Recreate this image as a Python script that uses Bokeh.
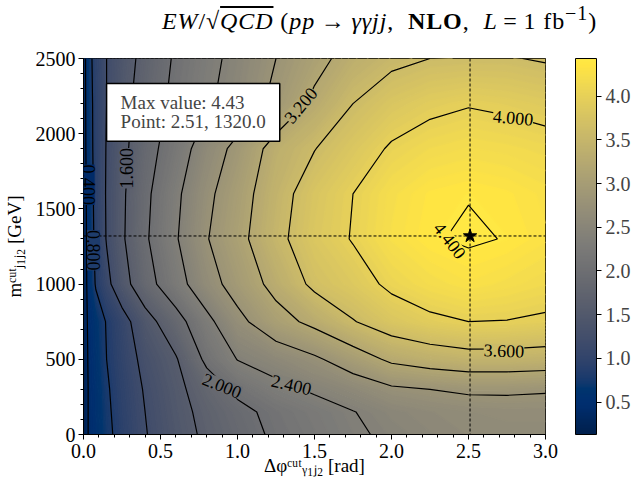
import numpy as np
from bokeh.plotting import figure
from bokeh.models import (ColorBar, LinearColorMapper, Label, Span, FixedTicker,
                          PrintfTickFormatter, Div)
from bokeh.palettes import Cividis256
from bokeh.layouts import column
from bokeh.embed import file_html
from bokeh.resources import INLINE

# ---------------- data ----------------
dphi_cut = [0.0, 0.03, 0.08, 0.15, 0.25, 0.4, 0.6, 0.8, 1.0, 1.25, 1.5, 1.75, 2.0, 2.25, 2.5, 2.75, 3.0]
mjj_cut = [0, 150, 300, 500, 750, 1000, 1300, 1600, 1900, 2200, 2500]

# significance EW/sqrt(QCD); one row per mjj_cut value, one column per dphi_cut value
sig_m0    = [0.13, 0.40, 0.55, 0.72, 0.92, 1.18, 1.44, 1.67, 1.85, 2.06, 2.20, 2.35, 2.46, 2.54, 2.60, 2.62, 2.62]
sig_m150  = [0.13, 0.40, 0.56, 0.74, 0.94, 1.20, 1.47, 1.71, 1.90, 2.10, 2.24, 2.39, 2.52, 2.59, 2.64, 2.66, 2.66]
sig_m300  = [0.14, 0.40, 0.57, 0.76, 0.96, 1.23, 1.50, 1.80, 2.08, 2.30, 2.45, 2.58, 2.74, 2.80, 2.85, 2.85, 2.83]
sig_m500  = [0.14, 0.42, 0.60, 0.80, 1.00, 1.30, 1.57, 2.08, 2.41, 2.57, 2.74, 3.00, 3.27, 3.38, 3.45, 3.45, 3.42]
sig_m750  = [0.15, 0.45, 0.62, 0.82, 1.05, 1.45, 1.85, 2.30, 2.70, 3.05, 3.30, 3.58, 3.80, 3.93, 4.00, 3.99, 3.95]
sig_m1000 = [0.16, 0.50, 0.83, 1.10, 1.45, 1.85, 2.25, 2.65, 2.95, 3.32, 3.68, 3.85, 4.07, 4.20, 4.28, 4.22, 4.15]
sig_m1300 = [0.17, 0.52, 0.90, 1.22, 1.55, 1.95, 2.37, 2.78, 3.08, 3.50, 3.82, 4.02, 4.25, 4.38, 4.43, 4.39, 4.30]
sig_m1600 = [0.18, 0.55, 0.92, 1.23, 1.54, 1.92, 2.33, 2.72, 3.02, 3.45, 3.78, 4.00, 4.22, 4.35, 4.39, 4.35, 4.27]
sig_m1900 = [0.19, 0.60, 0.93, 1.22, 1.50, 1.85, 2.20, 2.60, 2.90, 3.35, 3.59, 3.82, 4.04, 4.15, 4.20, 4.17, 4.12]
sig_m2200 = [0.20, 0.62, 0.93, 1.20, 1.47, 1.78, 2.10, 2.35, 2.55, 2.90, 3.28, 3.60, 3.80, 3.92, 3.98, 3.94, 3.88]
sig_m2500 = [0.20, 0.65, 0.95, 1.20, 1.42, 1.72, 2.05, 2.30, 2.50, 2.80, 3.08, 3.35, 3.52, 3.60, 3.62, 3.62, 3.57]

max_value = 4.43
max_point = [2.51, 1320.0]

contour_levels = [0.4, 0.8, 1.2, 1.6, 2.0, 2.4, 2.8, 3.2, 3.6, 4.0, 4.4]
labelled_levels = [0.4, 0.8, 1.6, 2.0, 2.4, 3.2, 3.6, 4.0, 4.4]
colorbar_ticks = [0.5, 1.0, 1.5, 2.0, 2.5, 3.0, 3.5, 4.0]
x_ticks = [0.0, 0.5, 1.0, 1.5, 2.0, 2.5, 3.0]
y_ticks = [0, 500, 1000, 1500, 2000, 2500]
color_low, color_high = 0.13, 4.43

x_label = "Δφᶜᵘᵗᵧ₁ⱼ₂ [rad]"
y_label = "mᶜᵘᵗⱼ₁ⱼ₂ [GeV]"

# ---------------- styling / placement ----------------
FONT = "Liberation Serif"
# contour label placement (x, y in data units, angle in degrees)
label_pos = [(0.03, 1660, -90), (0.065, 1225, -90), (0.28, 1770, 90), (0.90, 326, -22),
             (1.35, 332, -13), (1.41, 2190, 50), (2.73, 559, -2), (2.79, 2108, -5),
             (2.38, 1290, -52)]

z = np.array([sig_m0, sig_m150, sig_m300, sig_m500, sig_m750, sig_m1000,
              sig_m1300, sig_m1600, sig_m1900, sig_m2200, sig_m2500])
x = np.array(dphi_cut)
y = np.array(mjj_cut, dtype=float)


def cmap(v):
    i = int(round((v - color_low) / (color_high - color_low) * 255))
    return Cividis256[max(0, min(255, i))]


p = figure(frame_width=462, frame_height=376, x_range=(0, 3), y_range=(0, 2500),
           output_backend="svg", toolbar_location=None,
           min_border_left=77, min_border_top=10, min_border_bottom=43, min_border_right=70)
p.grid.visible = False
p.outline_line_color = "black"
p.outline_line_width = 1

# filled field (band edges drawn in the band colour to hide seams)
fill_levels = list(np.linspace(color_low - 0.005, color_high + 0.005, 90))
mids = [(a + b) / 2 for a, b in zip(fill_levels[:-1], fill_levels[1:])]
fill_cols = [cmap(m) for m in mids]
edge_cols = [cmap(v) for v in fill_levels]
p.contour(x, y, z, levels=fill_levels, fill_color=fill_cols, line_color=edge_cols, line_width=1.6)
# contour lines
p.contour(x, y, z, levels=contour_levels, line_color="black", line_width=1.2)

# crosshair and star at maximum
p.add_layout(Span(location=max_point[0], dimension="height", line_color="black",
                  line_dash="3 2", line_width=1))
p.add_layout(Span(location=max_point[1], dimension="width", line_color="black",
                  line_dash="3 2", line_width=1))
p.scatter(x=[max_point[0]], y=[max_point[1]], marker="star", size=14, color="black")

# contour labels
for lev, (lx, ly, ang) in zip(labelled_levels, label_pos):
    p.add_layout(Label(x=lx, y=ly, text=f"{lev:.3f}", angle=ang, angle_units="deg",
                       text_align="center", text_baseline="middle", text_font=FONT,
                       text_font_size="18px", text_color="black",
                       background_fill_color=cmap(lev), background_fill_alpha=1.0))

# info box
p.add_layout(Label(x=0.15, y=2334, text=f"Max value: {max_value}\nPoint: {max_point[0]}, {max_point[1]}",
                   text_align="left", text_baseline="top", text_font=FONT,
                   text_font_size="19px", text_line_height=0.9,
                   background_fill_color="white", border_line_color="black",
                   border_line_width=1.5, padding=(14, 9)))

# axes
p.xaxis.ticker = FixedTicker(ticks=x_ticks, minor_ticks=list(np.round(np.arange(0, 3.01, 0.1), 2)))
p.yaxis.ticker = FixedTicker(ticks=y_ticks, minor_ticks=list(range(0, 2501, 100)))
p.xaxis.formatter = PrintfTickFormatter(format="%.1f")
p.yaxis.formatter = PrintfTickFormatter(format="%d")
for ax in (p.xaxis, p.yaxis):
    ax.major_tick_out = 5
    ax.major_tick_in = 0
    ax.minor_tick_out = 3
    ax.minor_tick_in = 0
    ax.axis_line_color = "black"
    ax.major_tick_line_color = "black"
    ax.minor_tick_line_color = "black"
    ax.major_label_text_font = FONT
    ax.major_label_text_font_size = "20px"
    ax.major_label_text_color = "black"
    ax.axis_label_text_font = FONT
    ax.axis_label_text_font_size = "19px"
    ax.axis_label_text_font_style = "normal"
    ax.axis_label_text_color = "black"
p.xaxis.major_label_standoff = 4
p.yaxis.major_label_standoff = 3
p.yaxis.axis_label = y_label
p.yaxis.axis_label_standoff = 8
p.xaxis.axis_label = x_label
p.xaxis.axis_label_standoff = -6

# colour bar
mapper = LinearColorMapper(palette=Cividis256, low=color_low, high=color_high)
cb = ColorBar(color_mapper=mapper, ticker=FixedTicker(ticks=colorbar_ticks),
              formatter=PrintfTickFormatter(format="%.1f"), width=21, height=376,
              margin=0, padding=0, location=(30, 0), bar_line_color="black", bar_line_width=1,
              major_tick_in=0, major_tick_out=5, major_tick_line_color="black",
              minor_tick_line_color=None, label_standoff=4,
              major_label_text_font=FONT, major_label_text_font_size="20px",
              background_fill_color=None, border_line_color=None)
p.add_layout(cb, "right")

title_html = ('<div style="font-family:\'Liberation Serif\',serif;font-size:24px;line-height:28px;color:black;'
              'padding-left:157px;margin-top:-6px;white-space:nowrap;letter-spacing:0.9px">'
              '<i>EW</i>/√<span style="text-decoration:overline"><i>QCD</i></span>'
              '&nbsp;(<i>pp</i>&thinsp;→&thinsp;<i>γγjj</i>,&nbsp;&nbsp;<b>NLO</b>,&nbsp;&nbsp;<i>L</i>&thinsp;=&thinsp;1&nbsp;fb<sup>−1</sup>)</div>')
title = Div(text=title_html, width=622, height=38)

layout = column(title, p, spacing=0)
open("out.html", "w").write(file_html(layout, INLINE))
